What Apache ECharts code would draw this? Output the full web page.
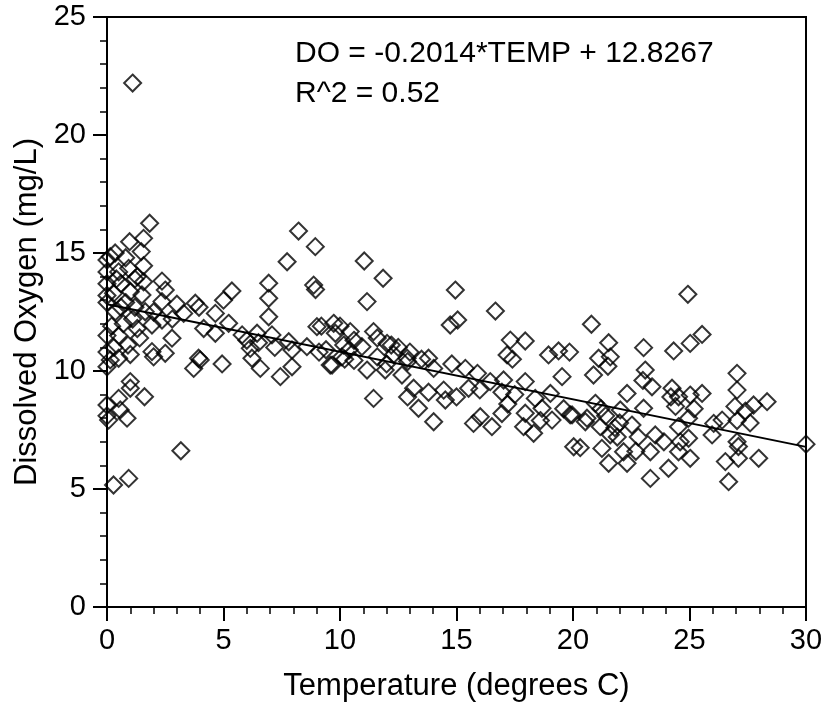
<!DOCTYPE html>
<html>
<head>
<meta charset="utf-8">
<script src="https://cdn.jsdelivr.net/npm/echarts@6/dist/echarts.min.js"></script>
<style>
  html, body { margin: 0; padding: 0; background: #fff; }
  #chart { width: 825px; height: 706px; }
</style>
</head>
<body>
<div id="chart"></div>
<script>
// temperature (deg C), dissolved oxygen (mg/L) pairs
const obsLow = [
  [1.1, 22.2],
  [1.83, 16.26], [0.97, 15.48], [1.57, 15.62], [1.47, 15.06], [0.14, 14.84], [0.35, 15.0],
  [1.57, 14.46], [0.93, 14.35], [0.5, 14.2], [0.0, 14.2], [0.0, 14.7], [0.8, 14.8],
  [1.3, 14.0], [0.4, 13.9], [0.0, 13.7], [1.0, 13.36], [1.57, 13.78], [0.28, 13.29],
  [0.0, 13.2], [1.5, 13.22], [0.6, 13.7], [1.2, 13.9], [0.8, 12.9], [0.36, 12.51],
  [1.64, 12.51], [0.0, 12.9], [1.1, 12.2], [0.7, 12.0], [0.2, 11.9], [1.3, 11.8],
  [0.0, 11.5], [0.5, 11.5], [0.9, 11.1], [1.4, 11.4], [0.3, 11.0], [0.0, 10.8],
  [1.0, 10.7], [1.93, 11.95], [1.93, 10.82], [0.6, 12.7], [1.2, 12.7],
  [0.14, 10.47], [0.5, 10.54], [0.0, 10.18], [2.0, 10.6],
  [1.0, 9.55], [1.0, 9.27], [1.61, 8.91], [0.5, 8.84], [0.0, 8.56], [0.57, 8.35],
  [0.86, 8.0], [0.07, 7.92], [0.0, 8.1], [0.28, 5.17], [0.93, 5.45], [3.17, 6.62]
]
const obsMid = [
  [2.36, 13.81], [2.5, 13.43], [2.36, 12.94], [3.0, 12.83], [3.79, 12.87], [3.95, 12.7],
  [3.29, 12.44], [2.36, 12.16], [2.0, 12.5], [2.8, 12.2], [2.79, 11.39], [2.5, 10.75],
  [3.93, 10.54], [4.0, 10.47], [3.72, 10.11], [4.15, 11.8], [4.65, 12.44], [4.65, 11.6],
  [5.0, 13.0], [5.36, 13.39], [5.22, 12.02], [4.94, 10.3],
  [5.8, 11.53], [6.94, 13.72], [6.94, 13.08], [6.94, 12.3], [6.44, 11.6], [7.08, 11.53],
  [6.15, 10.96], [7.8, 11.24], [7.94, 10.89], [7.73, 14.63], [8.22, 15.93], [8.94, 15.27],
  [8.87, 13.64], [8.95, 13.45], [9.01, 11.88], [8.58, 11.03], [9.1, 10.8], [6.22, 10.54],
  [6.58, 10.11], [7.44, 9.76], [7.94, 10.18], [9.58, 10.25], [6.5, 11.2], [6.0, 11.3], [7.2, 11.0],
  [11.04, 14.66], [11.85, 13.93], [11.16, 12.94], [9.73, 12.02], [9.8, 11.6], [10.44, 11.67],
  [11.44, 11.67], [10.94, 11.03], [12.02, 11.17], [12.2, 11.1], [10.16, 11.1], [10.08, 10.6],
  [12.88, 10.54], [13.8, 10.54], [14.8, 10.3], [9.66, 10.25], [10.2, 10.5], [10.6, 10.45],
  [11.16, 10.04], [11.94, 10.04], [12.66, 9.83], [12.9, 10.4], [13.5, 10.5], [14.02, 10.11],
  [11.44, 8.84], [13.16, 9.27], [12.9, 8.9], [13.8, 9.1], [13.37, 8.42], [14.45, 9.19],
  [14.52, 8.77], [14.02, 7.85], [9.2, 11.9], [10.0, 11.9], [10.6, 11.3], [11.6, 11.4],
  [12.5, 11.0], [13.0, 10.8], [9.4, 10.9], [10.4, 10.9], [11.6, 10.6], [12.3, 10.7], [12.0, 10.3]
]
const obsHigh = [
  [14.95, 13.43], [15.05, 12.16], [14.73, 11.95], [16.67, 12.54], [17.31, 11.31], [17.95, 11.27],
  [17.17, 10.68], [17.4, 10.5], [18.95, 10.68], [19.38, 10.85], [15.38, 10.11], [15.52, 9.27],
  [15.9, 9.9], [16.45, 9.55], [16.0, 9.2], [17.02, 9.62], [16.95, 9.1], [16.02, 8.06],
  [15.73, 7.78], [16.52, 7.64], [16.95, 8.2], [17.2, 8.6], [17.5, 9.0], [17.95, 9.55],
  [18.38, 8.84], [17.95, 8.21], [17.88, 7.64], [18.31, 7.36], [18.67, 8.42], [19.03, 9.05],
  [19.1, 7.92], [18.6, 7.9], [19.53, 9.76], [19.88, 8.14], [20.03, 6.79], [19.6, 8.4], [15.0, 8.9],
  [20.79, 11.98], [21.53, 11.2], [24.93, 13.25], [23.03, 10.99], [24.32, 10.85], [25.03, 11.17],
  [25.54, 11.55], [21.1, 10.54], [21.6, 10.6], [19.85, 10.8], [20.88, 9.83], [21.5, 10.2],
  [23.1, 10.04], [23.39, 9.33], [23.0, 9.6], [24.25, 9.27], [25.03, 8.98], [25.54, 9.05],
  [24.53, 8.91], [27.04, 9.9], [27.04, 9.19], [26.95, 8.5], [27.75, 8.56], [28.33, 8.7],
  [27.4, 8.3], [27.6, 7.8], [27.04, 7.9], [26.4, 7.92], [26.04, 7.78], [25.97, 7.29],
  [27.04, 7.0], [27.1, 6.8], [26.54, 6.16], [27.1, 6.3], [27.97, 6.3], [26.68, 5.31],
  [22.32, 9.05], [20.96, 8.63], [19.96, 8.14], [20.53, 7.85], [21.2, 8.4], [21.17, 7.64],
  [21.4, 8.1], [22.03, 8.35], [22.53, 7.71], [23.03, 8.42], [20.31, 6.75], [21.24, 6.72],
  [21.53, 6.09], [22.32, 6.09], [21.9, 7.2], [22.17, 6.58], [22.7, 6.6], [23.32, 6.58],
  [23.32, 5.45], [23.53, 7.29], [23.9, 7.0], [24.1, 5.88], [24.53, 6.58], [25.03, 6.3],
  [24.6, 7.0], [24.96, 7.15], [24.53, 7.64], [24.96, 8.0], [25.2, 8.4], [24.4, 8.5],
  [24.2, 8.9], [22.8, 7.2], [22.0, 7.8], [21.6, 7.3], [21.8, 7.6], [20.6, 8.0],
  [30, 6.9]
]

// DO = -0.2014*TEMP + 12.8267, end points at 0 and 30
const fitLine = [[0, 12.8267], [30, 6.7847]]

const xTicks = [0, 5, 10, 15, 20, 25, 30]
const yTicks = [0, 5, 10, 15, 20, 25]

const font = 'Liberation Sans, Arial, sans-serif'

const chart = echarts.init(document.getElementById('chart'), null, { renderer: 'canvas' })

const axisCommon = {
  axisLine: { show: true, onZero: false, lineStyle: { color: '#000', width: 2 } },
  axisTick: { show: true, inside: false, length: 14, lineStyle: { color: '#000', width: 2 } },
  minorTick: { show: true, splitNumber: 5, length: 7, lineStyle: { color: '#000', width: 1.5 } },
  splitLine: { show: false },
  nameTextStyle: { color: '#000', fontSize: 31, fontFamily: font },
  axisLabel: { color: '#000', fontSize: 29, fontFamily: font }
}

const option = {
  backgroundColor: '#fff',
  animation: false,
  grid: {
    left: 107, right: 19, top: 17, bottom: 99,
    show: true, borderColor: '#000', borderWidth: 2,
    containLabel: false, outerBoundsMode: 'none'
  },
  xAxis: Object.assign({}, axisCommon, {
    type: 'value',
    min: xTicks[0], max: xTicks[xTicks.length - 1], interval: 5,
    name: 'Temperature (degrees C)',
    nameLocation: 'middle', nameGap: 64,
    axisLabel: Object.assign({}, axisCommon.axisLabel, { margin: 19 })
  }),
  yAxis: Object.assign({}, axisCommon, {
    type: 'value',
    min: yTicks[0], max: yTicks[yTicks.length - 1], interval: 5,
    name: 'Dissolved Oxygen (mg/L)',
    nameLocation: 'middle', nameGap: 63, nameRotate: 90,
    axisLabel: Object.assign({}, axisCommon.axisLabel, { margin: 21 })
  }),
  graphic: [
    { type: 'text', left: 295, top: 39, style: { text: 'DO = -0.2014*TEMP + 12.8267', fill: '#000', font: '30px ' + font } },
    { type: 'text', left: 295, top: 79, style: { text: 'R^2 = 0.52', fill: '#000', font: '30px ' + font } }
  ],
  series: [
    {
      type: 'line', data: fitLine, showSymbol: false, z: 1,
      lineStyle: { color: '#000', width: 2 }
    },
    {
      type: 'scatter', symbol: 'diamond', symbolSize: 17, z: 2,
      data: obsLow.concat(obsMid, obsHigh),
      itemStyle: { color: 'rgba(0,0,0,0)', borderColor: '#000', borderWidth: 2 }
    }
  ]
}

chart.setOption(option)
</script>
</body>
</html>
